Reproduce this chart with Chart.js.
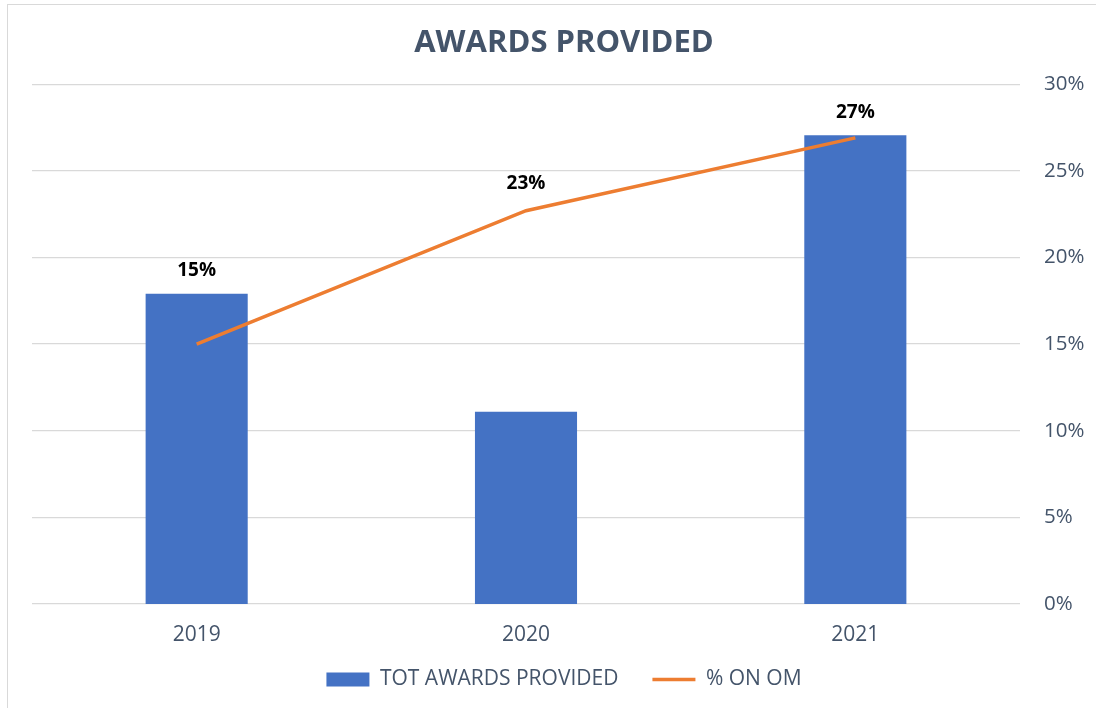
<!DOCTYPE html>
<html>
<head>
<meta charset="utf-8">
<script src="https://cdn.jsdelivr.net/npm/chart.js@4/dist/chart.umd.min.js"></script>
<style>
  html, body { margin: 0; padding: 0; background: #fff; overflow: hidden; }
  #frame { position: absolute; left: 7px; top: 4px; width: 1200px; height: 800px; border: 1px solid #d9d9d9; }
  #chart { position: absolute; left: 0; top: 0; }
</style>
</head>
<body>
<div id="frame"></div>
<canvas id="chart" width="1096" height="708"></canvas>
<script>
// --- data ---
const years = ['2019', '2020', '2021'];
const totAwards = [17.9, 11.1, 27.05];   // hidden axis
const pctOnOm = [15.0, 22.7, 26.9];
const pctTicks = [0, 5, 10, 15, 20, 25, 30];

const textColor = '#44546A';
const gridColor = '#d9d9d9';
const font = '"Open Sans", sans-serif';

// line labels (2019 one sits above the bar, like in the sheet)
const lineLabels = {
    id: 'lineLabels',
    afterLayout(chart) {
        // x axis is kept short so the legend sits close, let its labels show below it
        chart.scales.x.bottom += 24;
    },
    afterDatasetsDraw(chart) {
        const ctx = chart.ctx;
        const meta = chart.getDatasetMeta(1);
        const barMeta = chart.getDatasetMeta(0);
        ctx.save();
        ctx.font = 'bold 19px ' + font;
        ctx.fillStyle = '#000';
        ctx.textAlign = 'center';
        ctx.textBaseline = 'middle';
        meta.data.forEach((pt, i) => {
            let y = pt.y - 27;
            const barTop = barMeta.data[i].y;
            if (barTop < pt.y && barTop > pt.y - 60) y = barTop - 23;
            ctx.fillText(Math.round(pctOnOm[i]) + '%', pt.x, y);
        });
        ctx.restore();
    }
};

const chart = new Chart(document.getElementById('chart'), {
    data: {
        labels: years,
        datasets: [{
            type: 'bar',
            label: 'TOT AWARDS PROVIDED',
            data: totAwards,
            backgroundColor: '#4472C4',
            borderWidth: 0,
            yAxisID: 'yBar',
            barPercentage: 0.31,
            categoryPercentage: 1,
            order: 2
        }, {
            type: 'line',
            label: '% ON OM',
            data: pctOnOm,
            borderColor: '#ED7D31',
            backgroundColor: '#ED7D31',
            borderWidth: 3.5,
            pointRadius: 0,
            tension: 0,
            yAxisID: 'y',
            order: 1
        }]
    },
    options: {
        responsive: false,
        animation: false,
        layout: { padding: { left: 32, right: 0, bottom: 8 } },
        plugins: {
            title: {
                display: true,
                text: 'AWARDS PROVIDED',
                color: textColor,
                font: { family: font, size: 31, weight: 'bold' },
                padding: { top: 25, bottom: 22 }
            },
            legend: {
                position: 'bottom',
                labels: {
                    color: textColor,
                    font: { family: font, size: 21 },
                    usePointStyle: true,
                    pointStyleWidth: 43,
                    boxHeight: 14,
                    padding: 34,
                    sort: (a, b) => a.datasetIndex - b.datasetIndex,
                    generateLabels(c) {
                        const items = Chart.defaults.plugins.legend.labels.generateLabels(c);
                        items.forEach(it => {
                            if (it.datasetIndex === 0) {
                                it.pointStyle = 'rect';
                                it.lineWidth = 0;
                                it.fillStyle = '#4472C4';
                            } else {
                                it.pointStyle = 'line';
                                it.lineWidth = 3.5;
                                it.strokeStyle = '#ED7D31';
                            }
                        });
                        return items;
                    }
                }
            },
            tooltip: { enabled: false }
        },
        scales: {
            x: {
                grid: { display: false },
                border: { display: false },
                ticks: { color: textColor, font: { family: font, size: 21 }, padding: 10 },
                afterFit(axis) { axis.height = 31; }
            },
            yBar: {
                display: false,
                min: 0, max: 30
            },
            y: {
                position: 'right',
                min: 0, max: 30,
                afterBuildTicks(axis) { axis.ticks = pctTicks.map(v => ({ value: v })); },
                grid: { color: gridColor, lineWidth: 1.3, drawTicks: false },
                border: { display: false },
                ticks: {
                    color: textColor,
                    font: { family: font, size: 20.5 },
                    padding: 24,
                    callback: v => v + '%'
                },
                afterFit(axis) { axis.width = 76; }
            }
        }
    },
    plugins: [lineLabels]
});
</script>
</body>
</html>
